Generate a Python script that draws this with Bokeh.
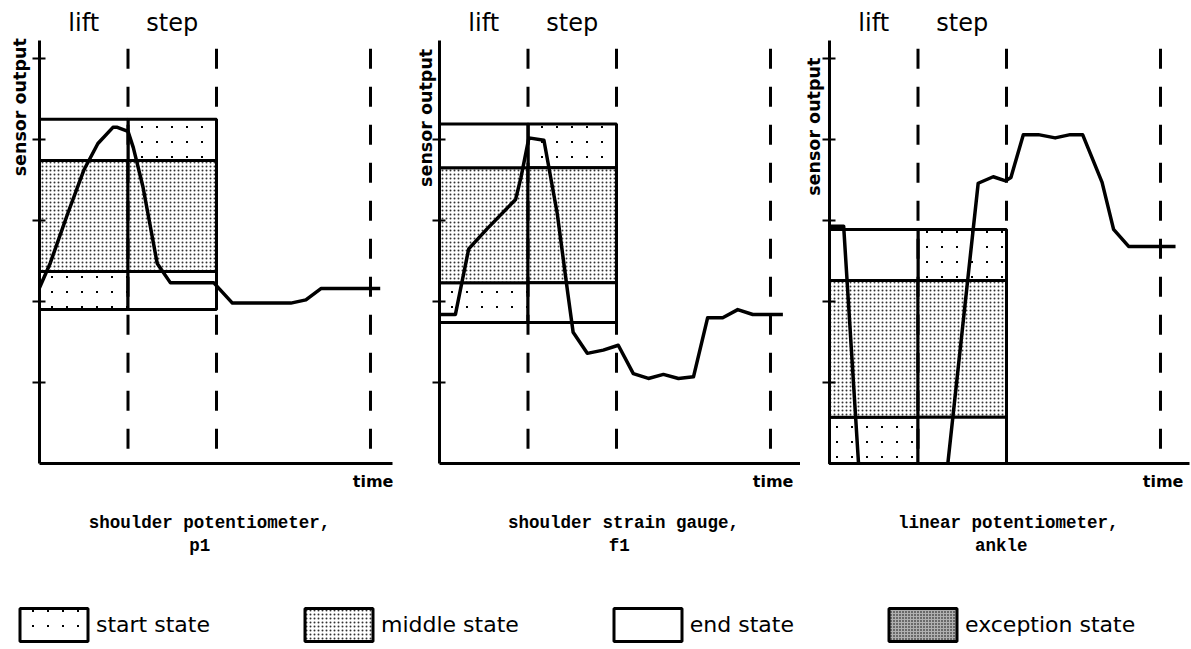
import math
import base64
import struct
import zlib
from bokeh.plotting import figure
from bokeh.models import (Range1d, FixedTicker, Label, Legend, LegendItem, LinearAxis,
                          ImageURLTexture)
from bokeh.core.properties import value
from bokeh.layouts import row, column
from bokeh.embed import file_html
from bokeh.resources import INLINE

# ---------------- data ----------------
phase_labels = ["lift", "step"]
phase_bounds = [0.0, 1.0, 2.0]          # time at phase boundaries
dash_times = [1.0, 2.0, 3.74]           # dashed time markers

# state of each box cell, rows bottom -> top, columns lift / step
cell_states = [["start", "end"], ["middle", "middle"], ["end", "start"]]

p1_time = [0.0, 0.12, 0.32, 0.50, 0.66, 0.83, 0.88, 1.00, 1.06, 1.17, 1.33, 1.48, 1.97, 2.18, 2.84, 3.01, 3.18, 3.85]
p1_out = [2.17, 2.47, 3.09, 3.62, 3.95, 4.15, 4.15, 4.10, 3.90, 3.41, 2.47, 2.23, 2.23, 1.98, 1.98, 2.02, 2.16, 2.16]
p1_rows = [1.90, 2.37, 3.74, 4.25]
p1_ticks = [1, 2, 3, 4, 5]

p2_time = [0.0, 0.18, 0.33, 0.54, 0.86, 0.92, 1.01, 1.18, 1.33, 1.45, 1.51, 1.67, 1.85, 2.02, 2.19, 2.36, 2.53, 2.70, 2.87, 3.03, 3.20, 3.37, 3.54, 3.88]
p2_out = [1.84, 1.84, 2.65, 2.90, 3.26, 3.53, 4.02, 3.99, 3.09, 2.10, 1.62, 1.36, 1.40, 1.46, 1.11, 1.05, 1.10, 1.05, 1.07, 1.80, 1.80, 1.90, 1.84, 1.84]
p2_rows = [1.74, 2.23, 3.65, 4.19]
p2_ticks = [1, 2, 3, 4]

p3_time = [0.0, 0.16, 0.50, 1.04, 1.68, 1.85, 1.99, 2.05, 2.19, 2.36, 2.55, 2.72, 2.86, 3.08, 3.21, 3.38, 3.91]
p3_out = [2.93, 2.93, -3.0, -3.0, 3.46, 3.54, 3.49, 3.53, 4.06, 4.06, 4.02, 4.06, 4.06, 3.47, 2.89, 2.68, 2.68]
p3_rows = [0.0, 0.57, 2.26, 2.89]
p3_ticks = [1, 2, 3, 4, 5]

captions = [("shoulder potentiometer,", "p1"),
            ("shoulder strain gauge,", "f1"),
            ("linear potentiometer,", "ankle")]

legend_states = ["start", "middle", "end", "exception"]


# ---------------- styles ----------------
def dot_tile_url(size=15):
    """Small PNG tile with one 2px dot, used as the 'start state' texture."""
    rows_ = []
    c = size // 2
    for yy in range(size):
        line = bytearray(b"\x00")
        for xx in range(size):
            on = (c - 1 <= xx <= c) and (c - 1 <= yy <= c)
            line += bytes([0, 0, 0, 255 if on else 0])
        rows_.append(bytes(line))
    raw = b"".join(rows_)

    def chunk(tag, data):
        return (struct.pack(">I", len(data)) + tag + data +
                struct.pack(">I", zlib.crc32(tag + data) & 0xffffffff))
    png = (b"\x89PNG\r\n\x1a\n" +
           chunk(b"IHDR", struct.pack(">IIBBBBB", size, size, 8, 6, 0, 0, 0)) +
           chunk(b"IDAT", zlib.compress(raw)) + chunk(b"IEND", b""))
    return "data:image/png;base64," + base64.b64encode(png).decode()


sparse_dots = ImageURLTexture(url=dot_tile_url(15))
STATE_STYLE = {
    "start": dict(fill_color="white", hatch_pattern=value("sparse"),
                  hatch_extra={"sparse": sparse_dots}, hatch_color="black"),
    "middle": dict(fill_color="white", hatch_pattern="dot", hatch_scale=4, hatch_weight=1,
                   hatch_color="#333333"),
    "end": dict(fill_color="white"),
    "exception": dict(fill_color="#b0b0b0", hatch_pattern="dot", hatch_scale=3, hatch_weight=1,
                      hatch_color="black"),
}
SANS = "DejaVu Sans"
MONO = "Liberation Mono"
PX_PER_T = 88.5      # pixels per time unit
PX_PER_Y = 81.0      # pixels per sensor unit
PANEL_H = 560
AXIS_FROM_TOP = 463  # x-axis position inside panel (px from top)
Y_TOP = 5.22


def make_panel(time, out, rows, ticks, caption, width, axis_px, axis_end, lab_x, lab_top,
               cap_x, cap2_x):
    x0 = -axis_px / PX_PER_T
    x1 = x0 + width / PX_PER_T
    y0 = -(PANEL_H - AXIS_FROM_TOP) / PX_PER_Y
    p = figure(width=width, height=PANEL_H,
               x_range=Range1d(x0, x1),
               y_range=Range1d(y0, y0 + PANEL_H / PX_PER_Y),
               output_backend="svg", toolbar_location=None, min_border=0,
               x_axis_location=None, y_axis_location=None)
    p.grid.visible = False
    p.outline_line_color = None
    p.background_fill_color = "white"
    p.border_fill_color = "white"

    xax = LinearAxis(fixed_location=0, ticker=FixedTicker(ticks=[]), bounds=(0, axis_end),
                     axis_line_width=3, axis_line_color="black",
                     major_tick_line_color=None, minor_tick_line_color=None)
    yax = LinearAxis(fixed_location=0, ticker=FixedTicker(ticks=[], minor_ticks=ticks),
                     bounds=(0, Y_TOP), axis_line_width=3, axis_line_color="black",
                     major_tick_line_color=None, minor_tick_in=6, minor_tick_out=7,
                     minor_tick_line_width=2, minor_tick_line_color="black")
    p.add_layout(xax, "below")
    p.add_layout(yax, "left")

    # state boxes
    for state in ["start", "middle", "end"]:
        L, R, B, T = [], [], [], []
        for r in range(3):
            for c in range(2):
                if cell_states[r][c] == state:
                    L.append(phase_bounds[c]); R.append(phase_bounds[c + 1])
                    B.append(rows[r]); T.append(rows[r + 1])
        p.quad(left=L, right=R, bottom=B, top=T, line_color="black", line_width=3,
               **STATE_STYLE[state])

    # sensor trace (the part below the time axis is cut off)
    p.line(time, out, line_width=3.5, color="black", line_join="round")
    p.quad(left=[x0 - 1], right=[x1 + 1], top=[-0.02], bottom=[y0 - 1],
           fill_color="white", line_color=None)

    # dashed time markers
    p.segment(x0=dash_times, y0=[Y_TOP - 0.1] * len(dash_times), x1=dash_times,
              y1=[0] * len(dash_times), line_dash="20 18", line_width=3, color="black")

    for i, name in enumerate(phase_labels):
        p.add_layout(Label(x=(phase_bounds[i] + phase_bounds[i + 1]) / 2, y=5.44, text=name,
                           text_align="center", text_baseline="middle",
                           text_font=SANS, text_font_size="24px", text_color="black"))
    p.add_layout(Label(x=lab_x, y=lab_top, text="sensor output", angle=math.pi / 2,
                       text_align="right", text_baseline="middle",
                       text_font=SANS, text_font_style="bold", text_font_size="17.5px",
                       text_color="black"))
    p.add_layout(Label(x=3.77, y=-0.22, text="time", text_align="center", text_baseline="middle",
                       text_font=SANS, text_font_style="bold", text_font_size="16px",
                       text_color="black"))
    p.add_layout(Label(x=cap_x, y=-0.73, text=caption[0], text_align="center",
                       text_baseline="middle", text_font=MONO, text_font_style="bold",
                       text_font_size="17.5px", text_color="black"))
    p.add_layout(Label(x=cap2_x, y=-1.02, text=caption[1], text_align="center",
                       text_baseline="middle", text_font=MONO, text_font_style="bold",
                       text_font_size="17.5px", text_color="black"))
    return p


p1 = make_panel(p1_time, p1_out, p1_rows, p1_ticks, captions[0], 400, 39, 3.99, -0.215, 5.25,
                1.92, 1.81)
p2 = make_panel(p2_time, p2_out, p2_rows, p2_ticks, captions[1], 400, 39, 4.08, -0.158, 5.12,
                2.08, 2.03)
p3 = make_panel(p3_time, p3_out, p3_rows, p3_ticks, captions[2], 391, 29, 4.07, -0.17, 5.01,
                2.02, 1.94)

# ---------------- legend ----------------
lf = figure(width=1191, height=89, x_range=Range1d(0, 1), y_range=Range1d(0, 1),
            output_backend="svg", toolbar_location=None, min_border=0,
            x_axis_location=None, y_axis_location=None)
lf.grid.visible = False
lf.outline_line_color = None
items = []
for name in legend_states:
    # swatch renderers hold one cell placed outside the visible range
    r = lf.quad(left=[5], right=[6], top=[6], bottom=[5], line_color="black", line_width=3,
                **STATE_STYLE[name])
    items.append(LegendItem(label=f"{name} state", renderers=[r]))
leg = Legend(items=items, orientation="horizontal", location=(11, 4), glyph_width=85,
             glyph_height=41, label_standoff=0, spacing=86, padding=0, margin=0,
             border_line_color=None, background_fill_alpha=0,
             label_text_font=SANS, label_text_font_size="22px", label_text_color="black")
lf.add_layout(leg)

layout = column(row(p1, p2, p3), lf)
open("out.html", "w").write(file_html(layout, INLINE))
